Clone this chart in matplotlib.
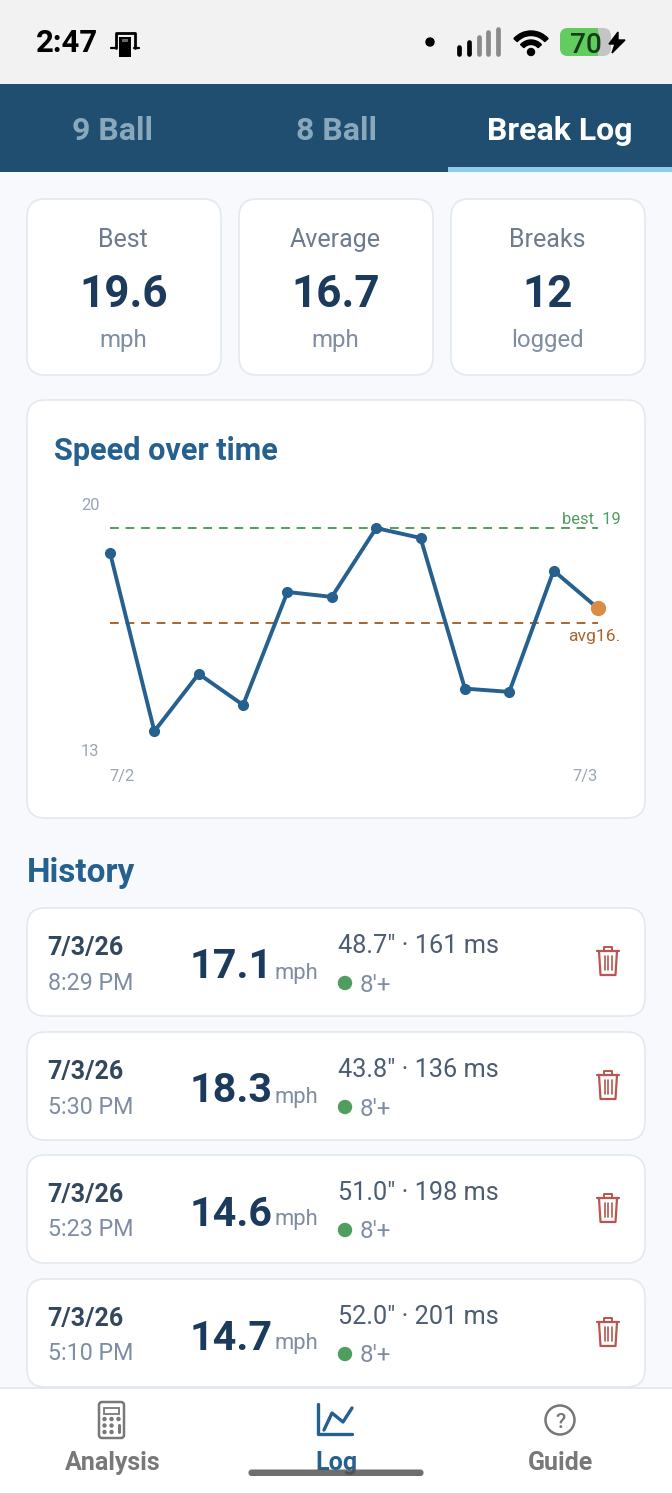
import matplotlib
matplotlib.use("Agg")
import matplotlib.pyplot as plt
from matplotlib.patches import FancyBboxPatch, Rectangle, Circle, Wedge

plt.rcParams['font.family'] = ['Roboto', 'DejaVu Sans']

# chart data
speeds = [18.85, 13.4, 15.15, 14.2, 17.65, 17.5, 19.6, 19.3, 14.7, 14.6, 18.3, 17.15]
best_speed = 19.6
avg_speed = 16.7
y_ticks = [13, 20]
x_labels = ['7/2', '7/3']

# stat cards
stat_titles = ['Best', 'Average', 'Breaks']
stat_values = ['19.6', '16.7', '12']
stat_units = ['mph', 'mph', 'logged']

# history rows
hist_dates = ['7/3/26', '7/3/26', '7/3/26', '7/3/26']
hist_times = ['8:29 PM', '5:30 PM', '5:23 PM', '5:10 PM']
hist_speeds = ['17.1', '18.3', '14.6', '14.7']
hist_details = ['48.7" · 161 ms', '43.8" · 136 ms', '51.0" · 198 ms', '52.0" · 201 ms']
hist_range = ["8'+", "8'+", "8'+", "8'+"]

tabs = ['9 Ball', '8 Ball', 'Break Log']
nav_labels = ['Analysis', 'Log', 'Guide']

W, H = 672, 1493
NAVY = '#1b3a5c'
BLUE = '#25608f'
GRAY = '#7f8da3'
GREEN = '#4f9e5f'
ORANGE = '#a8652f'
RED = '#b9564f'
NAV_GRAY = '#787878'


def px(size):
    return size * 0.72


fig = plt.figure(figsize=(W / 100, H / 100), dpi=100, facecolor='#f7f9fd')
ax = fig.add_axes([0, 0, 1, 1])
ax.set_xlim(0, W)
ax.set_ylim(H, 0)
ax.axis('off')


def txt(x, y, s, size, color, weight='normal', ha='left', zorder=5, **kw):
    return ax.text(x, y - 0.5, s, fontsize=px(size), color=color, fontweight=weight,
                   ha=ha, va='center_baseline', zorder=zorder, **kw)


def card(x0, y0, x1, y1, r=18, zorder=1):
    p = FancyBboxPatch((x0 + r, y0 + r), x1 - x0 - 2 * r, y1 - y0 - 2 * r,
                       boxstyle='round,pad=%d,rounding_size=%d' % (r, r),
                       fc='white', ec='#e3e8f0', lw=1.2, zorder=zorder)
    ax.add_patch(p)


def rect(x0, y0, x1, y1, color, zorder=2, **kw):
    ax.add_patch(Rectangle((x0, y0), x1 - x0, y1 - y0, fc=color, ec='none', zorder=zorder, **kw))


def line(xs, ys, color, lw=1.5, zorder=6):
    ax.plot(xs, ys, color=color, lw=lw, zorder=zorder, solid_capstyle='round')


def trash(cx, cy):
    line([cx - 11, cx + 11], [cy - 11, cy - 11], RED, 1.6)
    line([cx - 4, cx - 4, cx + 4, cx + 4], [cy - 11, cy - 15, cy - 15, cy - 11], RED, 1.4)
    line([cx - 9, cx - 7.5, cx + 7.5, cx + 9], [cy - 11, cy + 13, cy + 13, cy - 11], RED, 1.6)
    for dx in (-3.5, 0, 3.5):
        line([cx + dx, cx + dx], [cy - 6, cy + 8], RED, 1.2)


# status bar
rect(0, 0, W, 84, '#f2f2f2')
txt(36, 41, '2:47', 31, 'black', 'bold')
line([115.5, 115.5, 134.5, 134.5], [48, 33, 33, 48], 'black', 2)
line([111, 116], [48, 48], 'black', 1.6)
line([134, 139], [48, 48], 'black', 1.6)
rect(119, 37, 131, 57, 'black', zorder=6)
rect(122, 38.5, 128, 42, '#666666', zorder=7)
ax.add_patch(Circle((430, 42), 4, color='black', zorder=5))
for i, (x, h) in enumerate(zip([459, 469, 479, 488, 498], [7, 12, 17, 22, 25])):
    line([x, x], [54 - h, 54], 'black' if i < 2 else '#8a8a8a', 3.4)
for r, th in [(23, 4.5), (14, 4.5)]:
    ax.add_patch(Wedge((531, 54), r, 222, 318, width=th, color='black', zorder=5))
ax.add_patch(Circle((531, 52), 3.5, color='black', zorder=5))
ax.add_patch(FancyBboxPatch((567, 35), 37, 14, boxstyle='round,pad=7,rounding_size=8',
                            fc='#c4c4c4', ec='none', zorder=3))
ax.add_patch(FancyBboxPatch((567, 35), 25, 14, boxstyle='round,pad=7,rounding_size=8',
                            fc='#62cc5e', ec='none', zorder=4))
rect(590, 28, 598, 56, '#62cc5e', zorder=4)
txt(586, 43, '70', 28, '#143c18', 'medium', ha='center', zorder=6)
ax.fill([618, 609, 615, 612, 625, 618], [32, 44, 44, 53, 40, 40], color='black', zorder=6)

# tab bar
rect(0, 84, W, 172, '#1f4e71')
for i, t in enumerate(tabs):
    txt(112 + 224 * i, 129, t, 32, 'white' if i == 2 else '#8aa8bb', 'bold', ha='center')
rect(448, 167, W, 172, '#8fcbee', zorder=3)

# stat cards
for i in range(3):
    x0 = 27 + 212 * i
    card(x0, 199, x0 + 194, 375)
    cx = x0 + 97
    txt(cx - 1, 238, stat_titles[i], 25, '#6d7b8e', ha='center')
    txt(cx, 291, stat_values[i], 44, NAVY, 'bold', ha='center')
    txt(cx - 1, 339, stat_units[i], 24, GRAY, ha='center')

# chart card
card(27, 400, 645, 818)
txt(54, 449, 'Speed over time', 30.7, BLUE, 'bold')

chart = fig.add_axes([110 / W, 1 - 744.3 / H, 488 / W, 229.3 / H])
chart.patch.set_alpha(0)
chart.set_xlim(0, len(speeds) - 1)
chart.set_ylim(y_ticks[0], y_ticks[1])
chart.axis('off')
chart.axhline(best_speed, color=GREEN, lw=1.4, ls=(0, (4.5, 3.5)), zorder=1)
chart.axhline(avg_speed, color=ORANGE, lw=1.4, ls=(0, (4.5, 3.5)), zorder=1)
xs = list(range(len(speeds)))
chart.plot(xs, speeds, color=BLUE, lw=2.8, marker='o', ms=7, clip_on=False, zorder=3)
chart.plot(xs[-1], speeds[-1], 'o', color='#dc8b45', ms=10, clip_on=False, zorder=4)

clip = Rectangle((30, 500), 590, 150, transform=ax.transData)
t = txt(562, 518, 'best  %.1f' % best_speed, 16.5, GREEN)
t.set_clip_path(clip)
t.set_clip_on(True)
t = txt(568, 636, 'avg%.1f' % avg_speed, 17.5, ORANGE)
t.set_clip_path(clip)
t.set_clip_on(True)
txt(81, 505, str(y_ticks[1]), 16.5, '#9aa5b5')
txt(81, 750, str(y_ticks[0]), 16.5, '#9aa5b5')
txt(109, 776, x_labels[0], 16.5, '#9aa5b5')
txt(598, 776, x_labels[1], 16.5, '#9aa5b5', ha='right')

# history
txt(26.5, 870, 'History', 33.3, BLUE, 'bold')
for i, top in enumerate([908, 1032, 1155, 1279]):
    card(27, top, 645, top + 108)
    txt(47.5, top + 38, hist_dates[i], 25, '#33475f', 'bold')
    txt(47.5, top + 73, hist_times[i], 23.3, GRAY)
    txt(189.5, top + 56, hist_speeds[i], 41.2, NAVY, 'bold')
    txt(275, top + 63, 'mph', 22, GRAY)
    txt(338, top + 36, hist_details[i], 25.3, '#4c5d73')
    ax.add_patch(Circle((345, top + 75), 6.5, color=GREEN, zorder=5))
    txt(360, top + 75, hist_range[i], 24, GRAY)
    trash(608, top + 54)

# bottom nav
rect(0, 1388, W, H, 'white', zorder=3)
line([0, W], [1388, 1388], '#e2e6ee', 1.2)
for i, name in enumerate(nav_labels):
    txt(112.5 + 224 * i, 1461, name, 25, BLUE if i == 1 else NAV_GRAY, 'bold', ha='center')

# calculator icon
ax.add_patch(FancyBboxPatch((101, 1404), 21, 32, boxstyle='round,pad=2,rounding_size=3',
                            fc='none', ec=NAV_GRAY, lw=1.8, zorder=6))
ax.add_patch(Rectangle((104, 1408), 15, 6, fc='none', ec=NAV_GRAY, lw=1.3, zorder=6))
for row in range(3):
    for col in range(3):
        if col == 2 and row > 0:
            continue
        ax.add_patch(Circle((104.5 + col * 7, 1419 + row * 6.5), 1.5, color=NAV_GRAY, zorder=6))
line([118.5, 118.5], [1425, 1432], NAV_GRAY, 2.2)

# log icon
line([318, 318, 352], [1404, 1434, 1434], BLUE, 2.4)
line([324, 332, 343, 352], [1430, 1413, 1422, 1408], BLUE, 2.4)

# guide icon
ax.add_patch(Circle((560, 1420), 14.5, fc='none', ec=NAV_GRAY, lw=1.8, zorder=6))
txt(560, 1421, '?', 21, NAV_GRAY, 'medium', ha='center', zorder=7)

# home indicator
ax.add_patch(FancyBboxPatch((251, 1472), 170, 1.5, boxstyle='round,pad=2.5,rounding_size=3',
                            fc='#555555', ec='none', alpha=0.85, zorder=8))

fig.savefig('out.png', dpi=100)
